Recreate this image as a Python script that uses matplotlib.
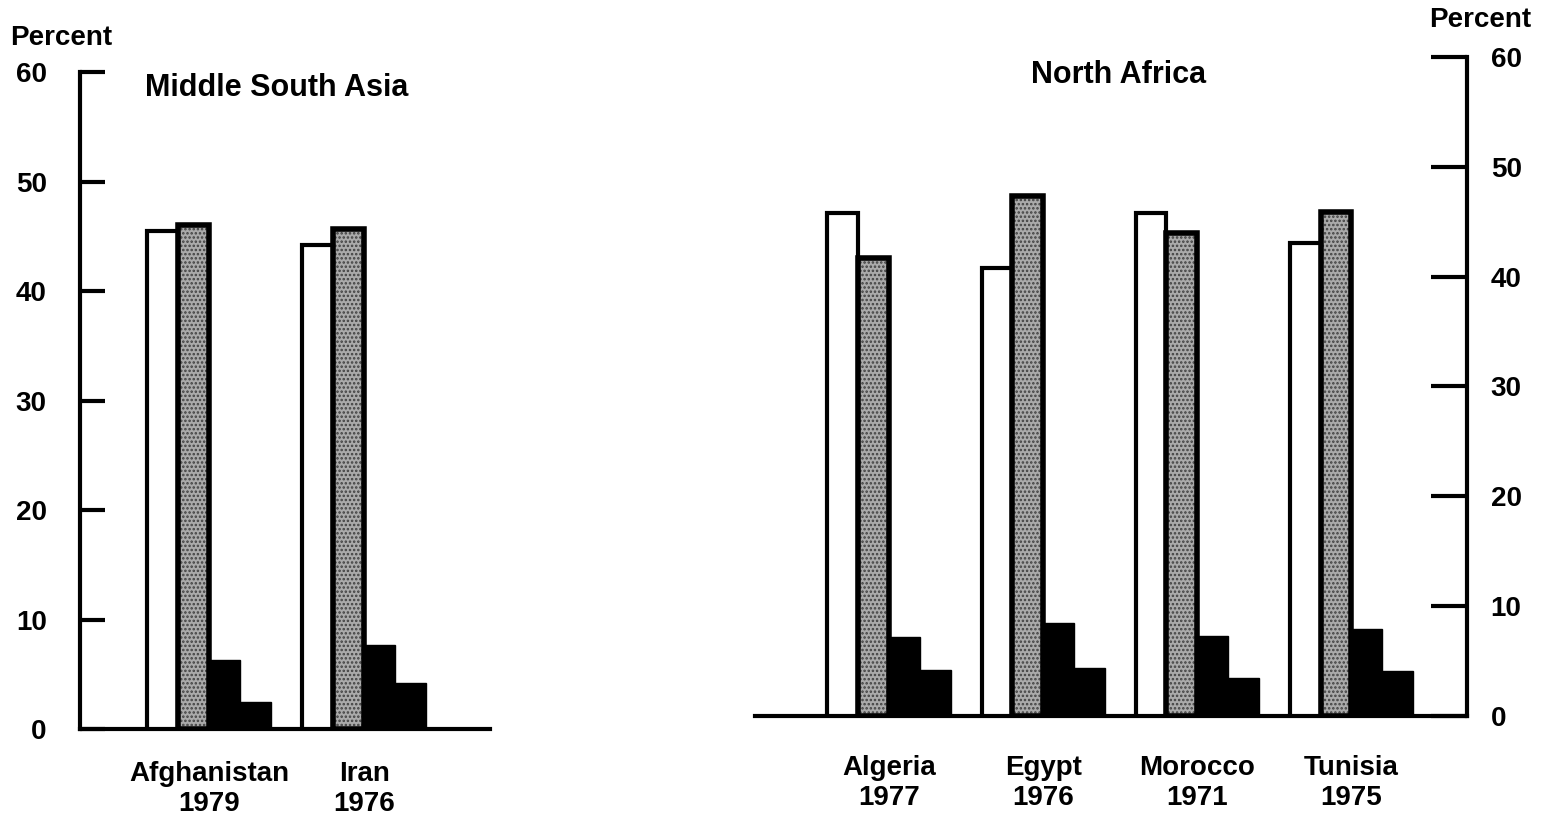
import numpy as np
import matplotlib.pyplot as plt

plt.rcParams['font.family'] = ['Liberation Sans', 'DejaVu Sans']
plt.rcParams['font.weight'] = 'bold'

# Middle South Asia
msa_countries = ['Afghanistan\n1979', 'Iran\n1976']
msa_white = [45.5, 44.2]
msa_gray = [46.0, 45.7]
msa_black1 = [6.3, 7.7]
msa_black2 = [2.5, 4.2]

# North Africa
na_countries = ['Algeria\n1977', 'Egypt\n1976', 'Morocco\n1971', 'Tunisia\n1975']
na_white = [45.8, 40.8, 45.8, 43.1]
na_gray = [41.7, 47.3, 44.0, 45.9]
na_black1 = [7.2, 8.5, 7.3, 7.9]
na_black2 = [4.2, 4.4, 3.5, 4.1]

yticks = [0, 10, 20, 30, 40, 50, 60]

W = 0.2
LW = 3
FS = 20


def draw_groups(ax, white, gray, black1, black2):
    x = np.arange(len(white))
    ax.bar(x - 1.5 * W, white, W, facecolor='white', edgecolor='black', linewidth=LW, zorder=3)
    ax.bar(x - 0.5 * W, gray, W, facecolor='#aaaaaa', edgecolor='#404040', hatch='....', linewidth=0, zorder=3)
    ax.bar(x - 0.5 * W, gray, W, facecolor='none', edgecolor='black', linewidth=LW + 1, zorder=4)
    ax.bar(x + 0.5 * W, black1, W, color='black', edgecolor='black', linewidth=1, zorder=3)
    ax.bar(x + 1.5 * W, black2, W, color='black', edgecolor='black', linewidth=1, zorder=3)
    return x


fig = plt.figure(figsize=(15.42, 8.26), dpi=100)
plt.rcParams['hatch.linewidth'] = 1.2

# left panel
ax1 = fig.add_axes([0.0519, 0.1174, 0.2659, 0.7954])
x1 = draw_groups(ax1, msa_white, msa_gray, msa_black1, msa_black2)
ax1.set_xlim(-0.83, 1.81)
ax1.set_ylim(0, 60)
ax1.set_yticks(yticks)
ax1.set_xticks(x1)
ax1.set_xticklabels(msa_countries, fontsize=FS, fontweight='bold', linespacing=1.2)
ax1.tick_params(axis='x', length=0, pad=23)
ax1.tick_params(axis='y', direction='in', length=18, width=3, labelsize=FS, pad=24)
for s in ['top', 'right']:
    ax1.spines[s].set_visible(False)
for s in ['left', 'bottom']:
    ax1.spines[s].set_linewidth(3)
ax1.text(0.159, 0.975, 'Middle South Asia', transform=ax1.transAxes, fontsize=22,
         fontweight='bold', ha='left', va='center')

# right panel
ax2 = fig.add_axes([0.4896, 0.1332, 0.4618, 0.7978])
x2 = draw_groups(ax2, na_white, na_gray, na_black1, na_black2)
ax2.set_xlim(-0.87, 3.75)
ax2.set_ylim(0, 60)
ax2.set_yticks(yticks)
ax2.set_xticks(x2)
ax2.set_xticklabels(na_countries, fontsize=FS, fontweight='bold', linespacing=1.2)
ax2.tick_params(axis='x', length=0, pad=28)
ax2.yaxis.tick_right()
ax2.tick_params(axis='y', direction='in', length=26, width=3, labelsize=FS, pad=17)
for s in ['top', 'left']:
    ax2.spines[s].set_visible(False)
for s in ['right', 'bottom']:
    ax2.spines[s].set_linewidth(3)
ax2.text(0.51, 0.972, 'North Africa', transform=ax2.transAxes, fontsize=22,
         fontweight='bold', ha='center', va='center')

fig.text(10 / 1542, 1 - 38 / 826, 'Percent', fontsize=FS, fontweight='bold', ha='left', va='center')
fig.text(1531 / 1542, 1 - 20 / 826, 'Percent', fontsize=FS, fontweight='bold', ha='right', va='center')

fig.savefig('out.png', dpi=100)
